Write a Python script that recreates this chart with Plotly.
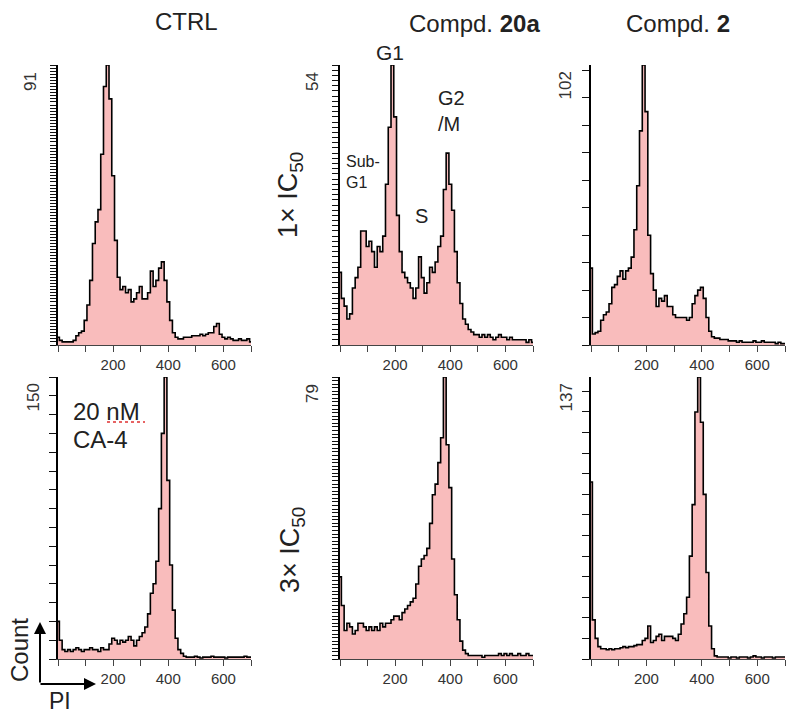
import plotly.graph_objects as go

# ---------------- data ----------------
PI_CHANNEL = [0, 10, 20, 30, 40, 50, 60, 70, 80, 90, 100, 110, 120, 130, 140, 150, 160, 170, 180, 190,
              200, 210, 220, 230, 240, 250, 260, 270, 280, 290, 300, 310, 320, 330, 340, 350, 360, 370, 380, 390,
              400, 410, 420, 430, 440, 450, 460, 470, 480, 490, 500, 510, 520, 530, 540, 550, 560, 570, 580, 590,
              600, 610, 620, 630, 640, 650, 660, 670, 680, 690, 700]

ctrl_counts = [2.5, 1.5, 1, 1, 1, 1, 1.5, 3, 4, 4.5, 8, 13, 21, 33, 40, 44, 62, 84, 91, 80,
               55, 34, 22, 18, 19, 17, 18, 14, 15, 17, 19, 15, 15, 17, 24, 19, 21, 25, 27, 21,
               14, 8, 4, 2.5, 2, 2, 2.5, 2.5, 2.5, 3, 3, 3, 3.5, 3, 3.5, 4, 4, 6, 7, 3.5,
               2.5, 2, 2.5, 2, 1.5, 1.5, 2, 1.5, 1.5, 2, 1]

c20a_1x_counts = [14, 9, 7.5, 5, 6, 11, 13, 15, 22, 22, 19, 20, 18, 15, 19, 18, 21, 31, 42, 54,
                  44, 25, 18, 14, 13, 12, 11, 9, 11, 17, 13, 10, 12, 15, 14, 16, 19, 21, 30, 37,
                  31, 26, 18, 12, 8, 5, 4, 3, 2.5, 2, 2, 1.5, 2, 1.5, 2, 1.5, 1, 1.5, 2, 1.5,
                  1.5, 1, 1.5, 1, 1, 1, 1, 1, 0.5, 1, 0.5]

c2_1x_counts = [28, 4, 4.5, 5, 9, 11, 12, 15, 21, 22, 25, 27, 24, 27, 28, 32, 42, 58, 78, 102,
                85, 40, 26, 20, 14, 17, 16, 18, 14, 14, 11, 10, 10, 10, 10, 9, 10, 15, 18, 20,
                21, 17, 10, 5, 3, 2.5, 2.5, 2, 2, 2, 1.5, 1.5, 1.5, 1, 1.5, 1, 1, 1, 1, 1.5,
                1, 1, 1.5, 1, 1, 1, 1, 0.5, 1, 0.5, 0.5]

ca4_counts = [20, 10, 5, 4, 5, 4, 5, 6, 5, 4, 5, 5, 6, 5, 5, 4, 6, 5, 5, 8,
              11, 10, 8, 10, 9, 10, 12, 10, 7, 10, 12, 14, 17, 24, 35, 40, 52, 80, 120, 150,
              95, 50, 26, 11, 5, 3, 1.5, 1, 1, 1, 1.5, 1, 0.5, 1, 1, 1, 1.5, 1, 1, 1,
              1, 0.5, 1, 1, 1, 1, 1, 1, 1.5, 1, 1]

c20a_3x_counts = [23, 15, 8, 10, 9, 7, 8, 10, 10, 9, 8, 9, 8, 9, 8, 10, 9, 10, 10, 11,
                  12, 12, 11, 13, 14, 15, 16, 17, 21, 26, 28, 29, 31, 38, 46, 49, 55, 62, 79, 60,
                  48, 28, 18, 11, 5, 2.5, 1.5, 1, 1, 1, 1, 1, 0.5, 1, 1, 1, 1, 1, 1.5, 1,
                  1.5, 1, 1.5, 1, 1, 1.5, 1, 1, 1.5, 1, 1]

c2_3x_counts = [86, 19, 10, 6, 5, 5, 4.5, 5, 4.5, 5, 5, 5.5, 6, 5.5, 6, 6, 6.5, 7, 7, 9,
                10, 16, 8, 9, 11, 12, 9, 11, 11, 11, 10, 9, 12, 17, 22, 30, 50, 75, 120, 137,
                115, 80, 42, 16, 5, 1.5, 1, 1, 1, 1, 0.5, 1, 1, 0.5, 1, 1, 1, 0.5, 1, 1.5,
                1, 1, 0.5, 1, 1, 1, 0.5, 1, 1, 1, 1]

panel_series = [ctrl_counts, c20a_1x_counts, c2_1x_counts, ca4_counts, c20a_3x_counts, c2_3x_counts]
panel_ymax = [91, 54, 102, 150, 79, 137]
panel_dtick = [1, 1, 10, 10, 1, 10]

x_tickvals = [0, 100, 200, 300, 400, 500, 600, 700]
x_ticktext = ["", "", "200", "", "400", "", "600", ""]

column_titles = ["CTRL", "Compd. <b>20a</b>", "Compd. <b>2</b>"]
row_titles = ["1× IC<sub>50</sub>", "3× IC<sub>50</sub>"]

# ---------------- layout geometry ----------------
W, H = 796, 721
FONT = "Liberation Sans, Arial, sans-serif"
col_px = [(58, 251), (340, 533), (591, 785)]
row_px = [(65, 345), (377, 659)]


def px_x(v):
    return v / W


def px_y(v):
    return 1 - v / H


FILL = "#f9bcbc"

fig = go.Figure()
layout = dict(
    width=W, height=H,
    margin=dict(l=0, r=0, t=0, b=0),
    paper_bgcolor="white", plot_bgcolor="white",
    showlegend=False,
    font=dict(family=FONT, color="#222"),
)
annotations = []

for i, (counts, ymax, dt) in enumerate(zip(panel_series, panel_ymax, panel_dtick)):
    r, c = divmod(i, 3)
    n = i + 1
    xa = "xaxis" if n == 1 else f"xaxis{n}"
    ya = "yaxis" if n == 1 else f"yaxis{n}"
    xref = "x" if n == 1 else f"x{n}"
    yref = "y" if n == 1 else f"y{n}"
    fig.add_trace(go.Scatter(
        x=PI_CHANNEL, y=counts, xaxis=xref, yaxis=yref,
        mode="lines", line=dict(color="black", width=1.6, shape="hvh"),
        fill="tozeroy", fillcolor=FILL, hoverinfo="skip",
    ))
    x0, x1 = col_px[c]
    top, bot = row_px[r]
    layout[xa] = dict(
        domain=[px_x(x0), px_x(x1)], range=[0, 700], anchor=yref,
        showline=True, linecolor="#444", linewidth=1,
        ticks="outside", ticklen=6, tickwidth=1, tickcolor="#444",
        tickmode="array", tickvals=x_tickvals, ticktext=x_ticktext,
        tickfont=dict(size=15, color="#333", family=FONT),
        showgrid=False, zeroline=False,
    )
    dense = dt == 1
    y_ticks = list(range(0, ymax + 1, dt))
    layout[ya] = dict(
        domain=[px_y(bot), px_y(top)], range=[0, ymax], anchor=xref,
        showline=True, linecolor="black", linewidth=2,
        ticks="outside", ticklen=6 if dense else 7, tickwidth=1.2,
        tickcolor="#111",
        tickmode="array", tickvals=y_ticks, ticktext=[str(v) for v in y_ticks],
        showticklabels=False, showgrid=False, zeroline=False,
    )
    annotations.append(dict(
        text=str(ymax), xref=f"{xref} domain", x=0, xanchor="right",
        yref=yref, y=ymax, yanchor="top", textangle=-90,
        xshift=-16 if dense else -14, yshift=-5, showarrow=False,
        font=dict(size=17, color="#333", family=FONT),
    ))

# column titles
title_pos = [(186, 22), (475, 24), (678, 24)]
for t, (tx, ty) in zip(column_titles, title_pos):
    annotations.append(dict(text=t, xref="paper", yref="paper", x=px_x(tx), y=px_y(ty),
                            xanchor="center", yanchor="middle", showarrow=False,
                            font=dict(size=24, color="#222", family=FONT)))

# row titles
for t, (tx, ty) in zip(row_titles, [(290, 195), (292, 550)]):
    annotations.append(dict(text=t, xref="paper", yref="paper", x=px_x(tx), y=px_y(ty),
                            xanchor="center", yanchor="middle", textangle=-90, showarrow=False,
                            font=dict(size=27, color="#222", family=FONT)))

# phase labels
phase_labels = [("G1", 390, 53, 21, "center"), ("G2<br>/M", 436, 111, 20, "left"),
                ("Sub-<br>G1", 344, 172, 16, "left"), ("S", 421, 216, 20, "center")]
for t, tx, ty, fs, anc in phase_labels:
    annotations.append(dict(text=t, xref="paper", yref="paper", x=px_x(tx), y=px_y(ty),
                            xanchor=anc, yanchor="middle", align="left", showarrow=False,
                            font=dict(size=fs, color="#222", family=FONT)))

# CA-4 label
for t, ty in [("20 nM", 411), ("CA-4", 440)]:
    annotations.append(dict(text=t, xref="paper", yref="paper", x=px_x(71), y=px_y(ty),
                            xanchor="left", yanchor="middle", showarrow=False,
                            font=dict(size=24, color="#222", family=FONT)))

# Count / PI axis key
annotations.append(dict(text="Count", xref="paper", yref="paper", x=px_x(19), y=px_y(650),
                        xanchor="center", yanchor="middle", textangle=-90, showarrow=False,
                        font=dict(size=24, color="#222", family=FONT)))
annotations.append(dict(text="PI", xref="paper", yref="paper", x=px_x(60), y=px_y(701),
                        xanchor="center", yanchor="middle", showarrow=False,
                        font=dict(size=23, color="#222", family=FONT)))
annotations.append(dict(text="", xref="paper", yref="paper", x=px_x(40), y=px_y(622),
                        ax=0, ay=62, showarrow=True, arrowhead=2, arrowsize=1.2,
                        arrowwidth=2, arrowcolor="black"))
annotations.append(dict(text="", xref="paper", yref="paper", x=px_x(96), y=px_y(684),
                        ax=-57, ay=0, showarrow=True, arrowhead=2, arrowsize=1.2,
                        arrowwidth=2, arrowcolor="black"))

layout["annotations"] = annotations
layout["shapes"] = [dict(type="line", xref="paper", yref="paper",
                         x0=px_x(107), x1=px_x(145), y0=px_y(422), y1=px_y(422),
                         line=dict(color="#e03030", width=1.5, dash="dot"))]

fig.update_layout(**layout)
fig.write_html("out.html", config={"displayModeBar": False},
               post_script="document.body.style.margin='0';")
